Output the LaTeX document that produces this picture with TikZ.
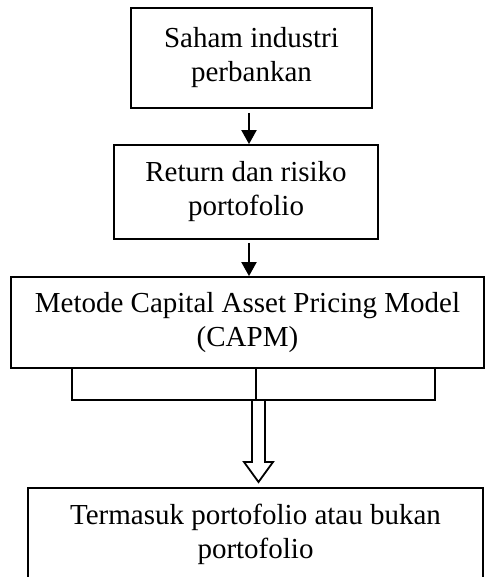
\documentclass[tikz,border=0pt]{standalone}
\usepackage{fontspec}
\setmainfont{Liberation Serif}
\usetikzlibrary{arrows.meta}
\begin{document}
\begin{tikzpicture}[x=1pt,y=-1pt,
 box/.style={draw, line width=1.8pt, inner sep=0pt, align=center, font=\fontsize{29}{34}\selectfont},
 txt/.style={inner sep=0pt, align=center, font=\fontsize{29}{34}\selectfont},
 arr/.style={line width=2pt, -{Triangle[length=14pt,width=15pt]}},
 ln/.style={line width=1.8pt}]
\useasboundingbox (0,0) rectangle (485,577);
\clip (0,0) rectangle (485,577);
\node[box, minimum width=241pt, minimum height=100pt] (a) at (251.5,58) {Saham industri\\perbankan};
\node[box, minimum width=264pt, minimum height=94pt] (b) at (246,192) {Return dan risiko\\portofolio};
\node[box, minimum width=473pt, minimum height=91pt] (c) at (247.5,322.5) {Metode Capital Asset Pricing Model\\(CAPM)};
\node[draw, line width=1.8pt, minimum width=455pt, minimum height=150pt, anchor=north] (d) at (255.5,487) {};
\node[txt] (dt) at (255.5,534) {Termasuk portofolio atau bukan\\portofolio};
\coordinate (x1) at (249,0);
\draw[arr] (a.south -| x1) ++(0,4) -- (b.north -| x1);
\draw[arr] (b.south -| x1) ++(0,3) -- (c.north -| x1);
\coordinate (bl) at (72,400);
\coordinate (bm) at (256,400);
\coordinate (br) at (435,400);
\draw[ln] (c.south -| bl) -- (bl) -- (br) -- (c.south -| br);
\draw[ln] (c.south -| bm) -- (bm);
\draw[ln, line join=miter] (252,400) -- (265,400) -- (265,462) -- (273,462) -- (258.5,482) -- (244,462) -- (252,462) -- cycle;
\end{tikzpicture}
\end{document}
